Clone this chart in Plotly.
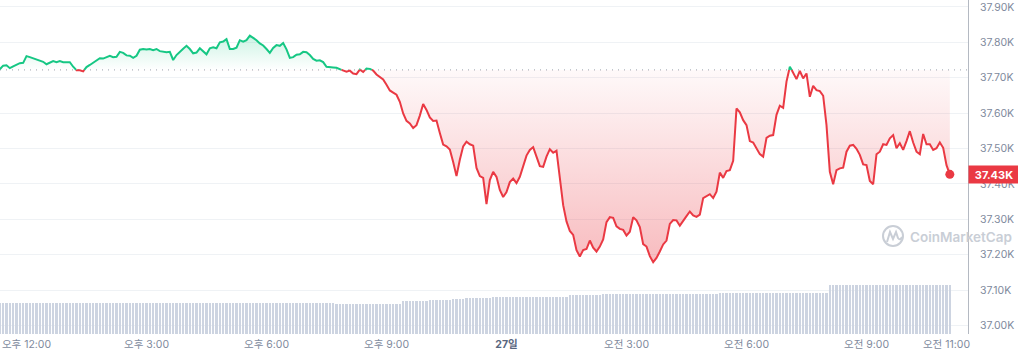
import numpy as np
import pandas as pd
import plotly.graph_objects as go

# ---------------- data ----------------
start_time = "2023-11-26 11:20"
prices = [
    37724, 37734, 37735, 37727, 37732, 37736, 37741, 37742, 37761, 37758,
    37755, 37752, 37750, 37745, 37738, 37742, 37747, 37744, 37747, 37744,
    37743, 37744, 37731, 37721, 37721, 37718, 37730, 37736, 37742, 37747,
    37755, 37754, 37759, 37762, 37758, 37759, 37773, 37770, 37763, 37762,
    37756, 37762, 37779, 37781, 37780, 37781, 37778, 37781, 37775, 37773,
    37772, 37773, 37750, 37764, 37774, 37782, 37790, 37781, 37769, 37771,
    37783, 37775, 37766, 37783, 37786, 37783, 37800, 37802, 37809, 37781,
    37781, 37785, 37806, 37802, 37806, 37819, 37813, 37806, 37797, 37791,
    37781, 37770, 37784, 37792, 37790, 37798, 37780, 37756, 37758, 37765,
    37766, 37773, 37772, 37764, 37753, 37748, 37749, 37744, 37731, 37729,
    37729, 37728, 37724, 37720, 37717, 37720, 37712, 37710, 37723, 37716,
    37726, 37725, 37720, 37709, 37701, 37695, 37680, 37664, 37658, 37652,
    37632, 37599, 37578, 37571, 37558, 37566, 37593, 37626, 37609, 37588,
    37578, 37579, 37544, 37511, 37506, 37497, 37462, 37422, 37468, 37506,
    37519, 37512, 37508, 37445, 37422, 37417, 37343, 37411, 37434, 37420,
    37383, 37363, 37377, 37405, 37415, 37402, 37420, 37452, 37480, 37496,
    37504, 37477, 37450, 37448, 37477, 37498, 37488, 37494, 37411, 37340,
    37294, 37267, 37256, 37213, 37195, 37213, 37216, 37240, 37220, 37209,
    37223, 37243, 37292, 37306, 37304, 37280, 37273, 37270, 37254, 37265,
    37306, 37297, 37278, 37230, 37223, 37196, 37179, 37191, 37209, 37229,
    37240, 37287, 37298, 37297, 37282, 37294, 37309, 37322, 37311, 37307,
    37313, 37360, 37366, 37371, 37360, 37378, 37432, 37417, 37436, 37439,
    37465, 37613, 37602, 37580, 37566, 37521, 37517, 37501, 37484, 37477,
    37530, 37536, 37538, 37595, 37621, 37615, 37689, 37731, 37715, 37696,
    37719, 37698, 37712, 37646, 37677, 37665, 37662, 37649, 37566, 37434,
    37399, 37439, 37444, 37446, 37491, 37508, 37510, 37499, 37482, 37455,
    37453, 37408, 37399, 37484, 37491, 37512, 37510, 37529, 37538, 37501,
    37515, 37496, 37521, 37549, 37517, 37491, 37484, 37541, 37512, 37512,
    37496, 37501, 37517, 37502, 37453, 37427,
]
ref_price = 37722
last_label = "37.43K"

# volume (24h, in B USD) given as runs of equal bar heights
volume_levels = [13.1, 12.9, 12.5, 12.7, 12.5, 13.7, 14.0, 14.2, 14.5, 14.7,
                 14.9, 15.1, 15.5, 16.4, 16.8, 17.2, 20.6]
volume_counts = [21, 80, 6, 2, 12, 3, 5, 7, 2, 2, 6, 2, 23, 10, 35, 33, 37]

y_tickvals = [37000, 37100, 37200, 37300, 37400, 37500, 37600, 37700, 37800, 37900]
y_ticktext = ["37.00K", "37.10K", "37.20K", "37.30K", "37.40K",
              "37.50K", "37.60K", "37.70K", "37.80K", "37.90K"]
x_tickvals = ["2023-11-26 12:00", "2023-11-26 15:00", "2023-11-26 18:00",
              "2023-11-26 21:00", "2023-11-27 00:00", "2023-11-27 03:00",
              "2023-11-27 06:00", "2023-11-27 09:00", "2023-11-27 11:00"]
x_ticktext = ["오후 12:00", "오후 3:00", "오후 6:00", "오후 9:00",
              "<b><span style='color:#58667e'>27일</span></b>",
              "오전 3:00", "오전 6:00", "오전 9:00", "오전 11:00"]

# ---------------- derived ----------------
GREEN = "#16c784"
RED = "#ea3943"
FONT = "Inter, 'Noto Sans CJK KR', sans-serif"

times = pd.date_range(start_time, periods=len(prices), freq="5min")
volumes = np.repeat(volume_levels, volume_counts)

# insert the crossing points with the reference level so colours split cleanly
xs, ps = [], []
for i in range(len(prices)):
    if i > 0:
        a, b = prices[i - 1], prices[i]
        if (a - ref_price) * (b - ref_price) < 0:
            f = (ref_price - a) / (b - a)
            xs.append(times[i - 1] + (times[i] - times[i - 1]) * f)
            ps.append(ref_price)
    xs.append(times[i])
    ps.append(prices[i])

upper = [max(p, ref_price) for p in ps]
lower = [min(p, ref_price) for p in ps]
green_line = [p if p >= ref_price else None for p in ps]
red_line = [p if p <= ref_price else None for p in ps]
base = [ref_price] * len(xs)

fig = go.Figure()

# volume bars
fig.add_trace(go.Bar(
    x=times, y=volumes, yaxis="y2",
    marker=dict(color="#cdd4e1", line=dict(width=0)),
    width=200000, hoverinfo="skip", showlegend=False,
))

# green fill
fig.add_trace(go.Scatter(x=xs, y=base, mode="lines", line=dict(width=0),
                         hoverinfo="skip", showlegend=False))
fig.add_trace(go.Scatter(
    x=xs, y=upper, mode="lines", line=dict(width=0), fill="tonexty",
    fillgradient=dict(type="vertical",
                      colorscale=[[0, "rgba(22,199,132,0)"], [1, "rgba(22,199,132,0.24)"]],
                      start=ref_price, stop=37830),
    hoverinfo="skip", showlegend=False))

# red fill
fig.add_trace(go.Scatter(x=xs, y=base, mode="lines", line=dict(width=0),
                         hoverinfo="skip", showlegend=False))
fig.add_trace(go.Scatter(
    x=xs, y=lower, mode="lines", line=dict(width=0), fill="tonexty",
    fillgradient=dict(type="vertical",
                      colorscale=[[0, "rgba(234,57,67,0.34)"], [1, "rgba(234,57,67,0.03)"]],
                      start=37180, stop=ref_price),
    hoverinfo="skip", showlegend=False))

# price lines
fig.add_trace(go.Scatter(x=xs, y=green_line, mode="lines",
                         line=dict(color=GREEN, width=2), connectgaps=False,
                         hoverinfo="skip", showlegend=False))
fig.add_trace(go.Scatter(x=xs, y=red_line, mode="lines",
                         line=dict(color=RED, width=2), connectgaps=False,
                         hoverinfo="skip", showlegend=False))

# last point marker
fig.add_trace(go.Scatter(x=[times[-1]], y=[prices[-1]], mode="markers",
                         marker=dict(color=RED, size=9), hoverinfo="skip",
                         showlegend=False))

# reference dotted line
fig.add_shape(type="line", xref="paper", x0=0, x1=1, yref="y",
              y0=ref_price, y1=ref_price,
              line=dict(color="#9aa1ad", width=1, dash="1px,5px"), layer="below")

# last price label
fig.add_annotation(xref="paper", x=1.0, yref="y", y=prices[-1], xanchor="left",
                   yanchor="middle", text="<b>" + last_label + "</b>", showarrow=False,
                   bgcolor=RED, font=dict(color="white", size=11, family=FONT),
                   width=48, height=15, borderpad=1, align="center")

# watermark
PW, PH = 968.0, 334.0
def px(x):
    return x / PW
def py(y):
    return 1 - y / PH

fig.add_shape(type="circle", xref="paper", yref="paper",
              x0=px(883), x1=px(903), y0=py(246), y1=py(226),
              line=dict(color="#c9ced6", width=2), layer="above")
path = "M {} {} L {} {} L {} {} L {} {} L {} {} Q {} {} {} {}".format(
    px(887), py(242), px(890), py(232), px(893), py(239), px(896), py(232),
    px(898), py(238), px(900), py(241), px(902), py(237))
fig.add_shape(type="path", xref="paper", yref="paper", path=path,
              line=dict(color="#c9ced6", width=2), layer="above")
fig.add_annotation(xref="paper", yref="paper", x=px(908), y=py(237),
                   xanchor="left", yanchor="middle", showarrow=False,
                   text="CoinMarketCap",
                   font=dict(family=FONT, size=13.5, color="#c9ced6", weight=600))

fig.update_layout(
    width=1018, height=356,
    margin=dict(l=0, r=50, t=0, b=22),
    paper_bgcolor="white", plot_bgcolor="white",
    bargap=0,
    xaxis=dict(
        type="date",
        range=["2023-11-26 11:20:15", "2023-11-27 11:32:15"],
        tickvals=x_tickvals, ticktext=x_ticktext,
        showgrid=False, zeroline=False, showline=False, ticks="",
        tickfont=dict(family=FONT, size=10.5, color="#808a9d"),
        ticklabelstandoff=2,
    ),
    yaxis=dict(
        side="right", range=[36976, 37919.5],
        tickvals=y_tickvals, ticktext=y_ticktext,
        showgrid=True, gridcolor="#eff2f5", gridwidth=1,
        zeroline=False, showline=True, linecolor="#b4b9c2", linewidth=1,
        ticks="", ticklabelstandoff=9,
        tickfont=dict(family=FONT, size=10.5, color="#808a9d"),
    ),
    yaxis2=dict(overlaying="y", range=[0, 140], visible=False),
    showlegend=False,
)

fig.write_html("out.html", config={"displayModeBar": False},
               post_script="document.body.style.margin='0';document.body.style.overflow='hidden';")
